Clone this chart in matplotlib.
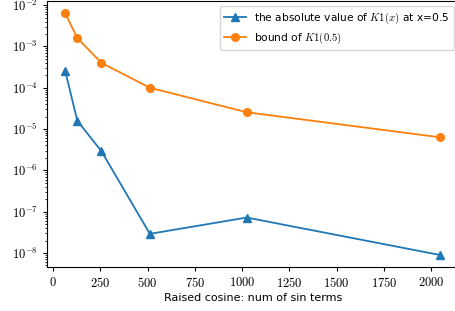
import numpy as np
import matplotlib
matplotlib.use('Agg')
import matplotlib.pyplot as plt
from matplotlib.ticker import FuncFormatter, LogLocator

plt.rcParams['mathtext.fontset'] = 'cm'
plt.rcParams['font.family'] = ['DejaVu Sans']

# number of sin terms
n_terms = [64, 128, 256, 512, 1024, 2048]
# |K1(x)| at x = 0.5
abs_k1 = [2.6e-4, 1.6e-5, 2.9e-6, 2.9e-8, 7.2e-8, 8.9e-9]
# bound of K1(0.5)
bound_k1 = [6.4e-3, 1.6e-3, 4.0e-4, 1.0e-4, 2.55e-5, 6.3e-6]

fig = plt.figure(figsize=(4.55, 3.11), dpi=100)
ax = fig.add_axes([47 / 455, 1 - 267 / 311, 412 / 455, 266 / 311])

ax.plot(n_terms, abs_k1, marker='^', color='#1f77b4', lw=1.3, ms=5.5,
        label=r'the absolute value of $K1(x)$ at x=0.5')
ax.plot(n_terms, bound_k1, marker='o', color='#ff7f0e', lw=1.3, ms=5.5,
        label=r'bound of $K1(0.5)$')

ax.set_yscale('log')
ax.set_xlim(-32, 2147)
ax.set_ylim(10 ** -8.34, 10 ** -1.9)
ax.set_xticks([0, 250, 500, 750, 1000, 1250, 1500, 1750, 2000])
ax.xaxis.set_major_formatter(FuncFormatter(lambda v, p: f'${int(v)}$'))
ax.yaxis.set_major_locator(LogLocator(base=10, numticks=10))
ax.yaxis.set_major_formatter(FuncFormatter(lambda v, p: f'$10^{{{int(round(np.log10(v)))}}}$'))
ax.tick_params(labelsize=9, length=3)
ax.tick_params(which='minor', length=1.8)

ax.set_xlabel('Raised cosine: num of sin terms', fontsize=8, labelpad=2)
ax.legend(loc='upper right', fontsize=7.7, borderaxespad=0.5, labelspacing=0.4)

fig.savefig('out.png', dpi=100)
